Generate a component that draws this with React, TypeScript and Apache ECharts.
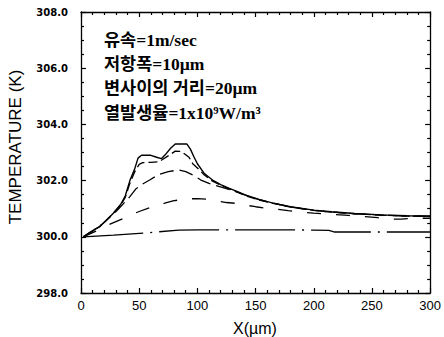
import React, { useEffect, useRef } from "react";
import * as echarts from "echarts";

const xTicks = [0, 300, 50];
const yTicks = [298, 308, 2];

const solidX = [2, 10, 16, 22, 28, 34, 38, 42, 46, 49, 52, 60, 65, 69, 73, 77, 81, 91, 94, 97, 100, 106, 113, 120, 127, 135, 141, 153, 165, 180, 200, 215, 235, 258, 280, 300];
const solidY = [300.0, 300.22, 300.36, 300.6, 300.85, 301.15, 301.45, 302.0, 302.4, 302.8, 302.9, 302.9, 302.83, 302.78, 302.95, 303.15, 303.3, 303.3, 303.12, 302.85, 302.6, 302.25, 302.02, 301.86, 301.73, 301.6, 301.49, 301.33, 301.2, 301.07, 300.95, 300.89, 300.83, 300.78, 300.75, 300.74];

const dash1X = [2, 10, 16, 22, 28, 34, 38, 42, 46, 50, 53, 60, 67, 70, 76, 81, 86, 90, 93, 96, 100, 106, 113, 120, 127, 135, 141, 153, 165, 180, 200, 215, 235, 258, 280, 300];
const dash1Y = [300.0, 300.22, 300.36, 300.6, 300.85, 301.12, 301.4, 301.9, 302.3, 302.58, 302.64, 302.65, 302.67, 302.75, 302.91, 303.05, 303.04, 302.92, 302.82, 302.6, 302.45, 302.2, 301.98, 301.84, 301.71, 301.58, 301.47, 301.31, 301.19, 301.06, 300.94, 300.88, 300.82, 300.77, 300.74, 300.73];

const dash2X = [2, 10, 18, 25, 32, 38, 42, 47, 53, 59, 66, 75, 84, 90, 96, 103, 110, 116, 122, 130, 140, 153, 165, 180, 200, 215, 235, 258, 280, 300];
const dash2Y = [300.0, 300.2, 300.45, 300.7, 300.98, 301.25, 301.43, 301.7, 301.88, 302.02, 302.2, 302.32, 302.38, 302.32, 302.2, 302.02, 301.9, 301.82, 301.75, 301.65, 301.5, 301.32, 301.2, 301.06, 300.94, 300.88, 300.82, 300.77, 300.74, 300.73];

const dash3X = [2, 10, 17, 23, 30, 37, 44, 50, 58, 65, 72, 79, 86, 92, 100, 108, 117, 125, 133, 141, 150, 160, 168, 178, 187, 200, 215, 230, 243, 255, 265, 275, 285, 300];
const dash3Y = [300.0, 300.15, 300.28, 300.42, 300.54, 300.66, 300.8, 300.9, 301.02, 301.1, 301.2, 301.28, 301.32, 301.35, 301.36, 301.34, 301.27, 301.22, 301.19, 301.13, 301.07, 301.01, 300.98, 300.93, 300.89, 300.84, 300.8, 300.76, 300.72, 300.68, 300.63, 300.63, 300.66, 300.66];

const dotX = [2, 28, 59, 84, 100, 150, 200, 213, 218, 300];
const dotY = [300.0, 300.06, 300.15, 300.24, 300.25, 300.25, 300.24, 300.23, 300.17, 300.17];

const notes = ["유속=1m/sec", "저항폭=10µm", "변사이의 거리=20µm", "열발생율=1x10⁹W/m³"];
const xName = "X(µm)";
const yName = "TEMPERATURE (K)";

const pairs = (xs: number[], ys: number[]) => xs.map((x, i) => [x, ys[i]]);

export default function App() {
  const ref = useRef<HTMLDivElement>(null);
  useEffect(() => {
    if (!ref.current) return;
    const chart = echarts.init(ref.current, null, { renderer: "svg" });
    const tickStyle = { color: "#000", width: 1.2 };
    const mk = (splitNumber: number) => ({
      axisLine: { show: true, onZero: false, lineStyle: { color: "#000", width: 1.3 } },
      axisTick: { show: true, inside: true, length: 5, lineStyle: tickStyle },
      minorTick: { show: true, splitNumber, length: 3, lineStyle: tickStyle },
      splitLine: { show: false },
      minorSplitLine: { show: false },
    });
    const xCommon = { type: "value", min: xTicks[0], max: xTicks[1], interval: xTicks[2], ...mk(5) };
    const yCommon = { type: "value", min: yTicks[0], max: yTicks[1], interval: yTicks[2], ...mk(4) };
    const line = (xs: number[], ys: number[], type: any, width = 1.3) => ({
      type: "line",
      data: pairs(xs, ys),
      showSymbol: false,
      symbol: "none",
      smooth: false,
      lineStyle: { color: "#000", width, type },
      z: 3,
    });
    chart.setOption({
      animation: false,
      backgroundColor: "#fff",
      grid: { left: 81, right: 11, top: 12, bottom: 44, containLabel: false },
      xAxis: [
        {
          ...xCommon,
          position: "bottom",
          axisLabel: { show: true, color: "#000", fontSize: 13, fontFamily: "Liberation Sans", margin: 6 },
        },
        { ...xCommon, position: "top", axisLabel: { show: false } },
      ],
      yAxis: [
        {
          ...yCommon,
          position: "left",
          axisLabel: {
            show: true,
            color: "#000",
            fontSize: 10,
            fontWeight: "bold",
            fontFamily: "DejaVu Sans",
            margin: 13,
            formatter: (v: number) => v.toFixed(1),
          },
        },
        { ...yCommon, position: "right", axisLabel: { show: false } },
      ],
      series: [
        line(solidX, solidY, "solid", 1.4),
        line(dash1X, dash1Y, [9, 4]),
        line(dash2X, dash2Y, [14, 6]),
        line(dash3X, dash3Y, [14, 15]),
        line(dotX, dotY, [60, 7, 2, 7]),
      ],
      graphic: [
        ...notes.map((t, i) => ({
          type: "text",
          left: 104,
          top: [41, 65, 89, 114][i] - 10,
          style: {
            text: t,
            fill: "#000",
            font: "bold 17.5px 'Liberation Serif', 'Noto Sans CJK KR'",
          },
        })),
        {
          type: "text",
          x: 15,
          y: 147,
          rotation: Math.PI / 2,
          style: {
            text: yName,
            fill: "#000",
            font: "17px 'Liberation Sans'",
            textAlign: "center",
            textVerticalAlign: "middle",
          },
        },
        {
          type: "text",
          x: 255,
          y: 328,
          style: {
            text: xName,
            fill: "#000",
            font: "16px 'Liberation Sans'",
            textAlign: "center",
            textVerticalAlign: "middle",
          },
        },
      ],
    });
    return () => chart.dispose();
  }, []);
  return <div ref={ref} style={{ position: "fixed", left: 0, top: 0, width: 444, height: 337 }} />;
}
